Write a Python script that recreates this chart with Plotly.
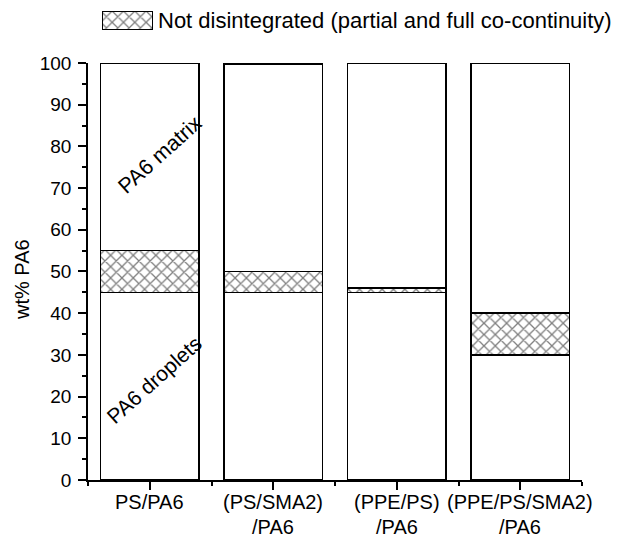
import plotly.graph_objects as go

categories_line1 = ["PS/PA6", "(PS/SMA2)", "(PPE/PS)", "(PPE/PS/SMA2)"]
categories_line2 = ["", "/PA6", "/PA6", "/PA6"]
droplets = [45, 45, 45, 30]
not_disintegrated = [10, 5, 1, 10]
matrix = [45, 49.8, 54, 60]
y_ticks = list(range(0, 101, 10))
legend_label = "Not disintegrated (partial and full co-continuity)"

FONT = "Liberation Sans, Arial, sans-serif"
xs = list(range(len(categories_line1)))
line = dict(color="black", width=1.5)
pattern = dict(shape="x", size=8, solidity=0.3, fgcolor="black", bgcolor="white", fillmode="overlay")

fig = go.Figure()
fig.add_trace(go.Bar(x=xs, y=droplets, width=0.8, marker=dict(color="white", line=line), showlegend=False))
fig.add_trace(go.Bar(x=xs, y=not_disintegrated, width=0.8,
                     marker=dict(color="white", line=line, pattern=pattern), showlegend=False))
fig.add_trace(go.Bar(x=xs, y=matrix, width=0.8, marker=dict(color="white", line=line), showlegend=False))

# legend swatch on a hidden small axis
fig.add_trace(go.Bar(x=[0.5], y=[1], width=1, xaxis="x2", yaxis="y2",
                     marker=dict(color="white", line=dict(color="black", width=1.2), pattern=pattern),
                     showlegend=False, hoverinfo="skip"))

annotations = [
    dict(x=0.137, y=0.973, xref="paper", yref="paper", text=legend_label, showarrow=False,
         xanchor="left", yanchor="middle", font=dict(size=22)),
    dict(x=0.08, y=78, xref="x", yref="y", text="PA6 matrix", showarrow=False,
         textangle=-42, font=dict(size=21.5)),
    dict(x=0.04, y=24, xref="x", yref="y", text="PA6 droplets", showarrow=False,
         textangle=-42, font=dict(size=21)),
    dict(x=-0.1336, y=0.4237, xref="paper", yref="paper", text="wt% PA6", showarrow=False,
         textangle=-90, xanchor="center", yanchor="middle", font=dict(size=20)),
]
for xi, l1, l2 in zip(xs, categories_line1, categories_line2):
    annotations.append(dict(x=xi, y=0, xref="x", yref="paper", text=l1, showarrow=False,
                            xanchor="center", yanchor="top", yshift=-9, font=dict(size=20)))
    if l2:
        annotations.append(dict(x=xi, y=0, xref="x", yref="paper", text=l2, showarrow=False,
                                xanchor="center", yanchor="top", yshift=-34, font=dict(size=20)))

fig.update_layout(
    barmode="stack",
    width=620, height=534,
    margin=dict(l=80, r=46, t=0, b=62),
    paper_bgcolor="white", plot_bgcolor="white",
    font=dict(family=FONT, size=19, color="black"),
    xaxis=dict(range=[-0.5, 3.5], tickvals=xs, showticklabels=False, automargin=False,
               showline=True, linecolor="black", linewidth=1.5,
               ticks="outside", ticklen=8, tickwidth=1.5, tickcolor="black",
               minor=dict(tick0=-0.5, dtick=1, ticks="outside", ticklen=4, tickwidth=1.5, tickcolor="black"),
               showgrid=False, zeroline=False, fixedrange=True),
    yaxis=dict(domain=[0, 0.8835], range=[0, 100], tickvals=y_ticks, automargin=False,
               showline=True, linecolor="black", linewidth=1.5,
               ticks="outside", ticklen=8, tickwidth=1.5, tickcolor="black",
               tickfont=dict(size=19), ticklabelstandoff=3,
               minor=dict(dtick=5, ticks="outside", ticklen=4, tickwidth=1.5, tickcolor="black"),
               showgrid=False, zeroline=False),
    xaxis2=dict(domain=[0.026, 0.133], range=[-0.03, 1.03], anchor="y2", visible=False),
    yaxis2=dict(domain=[0.953, 0.9936], range=[-0.05, 1.05], anchor="x2", visible=False),
    annotations=annotations,
)

fig.write_html("out.html")
